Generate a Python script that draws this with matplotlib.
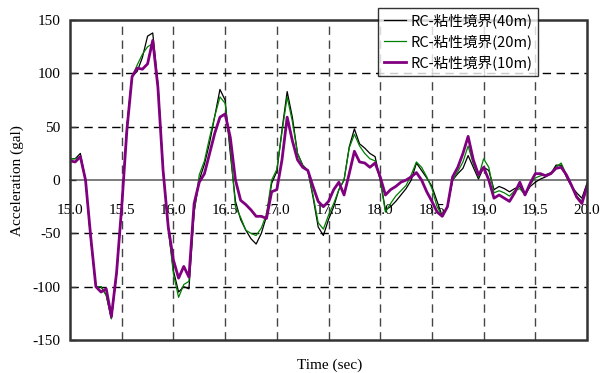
import numpy as np
import matplotlib
matplotlib.use('Agg')
import matplotlib.pyplot as plt
from matplotlib.patches import Rectangle

# 0.05秒刻みの読み取り値
t = np.round(np.arange(15.0, 20.0001, 0.05), 2)

acc_40m = [20, 20, 25, 0, -55, -100, -100, -108, -130, -88,
           -25, 50, 97, 102, 115, 135, 138, 90, 10, -45,
           -85, -105, -100, -102, -30, 0, 15, 35, 60, 85,
           75, 25, -20, -37, -47, -55, -60, -50, -34, -3,
           8, 47, 83, 59, 25, 14, 9, -16, -44, -52,
           -37, -25, -9, 0, 31, 48, 34, 30, 25, 22,
           0, -28, -25, -20, -14, -8, 0, 16, 9, 2,
           -6, -20, -34, -25, 0, 6, 11, 23, 12, 1,
           12, 9, -9, -6, -8, -11, -8, -6, -14, -6,
           -2, 1, 3, 6, 14, 14, 3, -6, -12, -17,
           -3]

acc_20m = [20, 20, 22, 0, -55, -100, -100, -108, -130, -88,
           -25, 50, 97, 108, 118, 125, 128, 90, 10, -45,
           -88, -110, -98, -95, -30, 5, 18, 40, 60, 78,
           72, 30, -25, -35, -47, -50, -52, -45, -32, 0,
           10, 45, 78, 55, 25, 14, 9, -14, -40, -46,
           -33, -22, -9, 0, 30, 43, 32, 25, 20, 18,
           0, -30, -22, -15, -10, -5, 5, 17, 12, 3,
           -8, -25, -34, -25, 0, 8, 17, 32, 15, 3,
           20, 12, -12, -10, -12, -15, -10, -8, -14, -4,
           2, 4, 5, 7, 12, 16, 5, -6, -15, -20,
           -5]

acc_10m = [18, 17, 22, 0, -53, -100, -105, -102, -128, -87,
           -25, 47, 97, 105, 104, 109, 131, 87, 9, -44,
           -75, -92, -81, -91, -22, -2, 6, 25, 44, 59,
           62, 40, 0, -19, -23, -28, -34, -34, -36, -11,
           -9, 19, 59, 37, 19, 12, 9, -6, -20, -25,
           -20, -9, -2, -14, 6, 27, 17, 16, 12, 16,
           3, -14, -9, -6, -2, 0, 3, 7, 0, -11,
           -20, -30, -34, -25, 3, 12, 25, 41, 19, 5,
           12, 0, -17, -14, -17, -20, -12, -2, -14, -3,
           6, 6, 4, 6, 11, 12, 5, -5, -16, -22,
           -6]

labels = ['RC-粘性境界(40m)', 'RC-粘性境界(20m)', 'RC-粘性境界(10m)']

plt.rcParams['axes.unicode_minus'] = False
serif = ['Liberation Serif', 'DejaVu Serif']
fig = plt.figure(figsize=(6, 3.73), dpi=100)
ax = fig.add_axes([0.1167, 0.0885, 0.8617, 0.8575])

l1, = ax.plot(t, acc_40m, color='black', lw=0.9)
l2, = ax.plot(t, acc_20m, color='#008000', lw=0.9)
l3, = ax.plot(t, acc_10m, color='#800080', lw=2.0)

ax.set_xlim(15, 20)
ax.set_ylim(-150, 150)
ax.set_xticks(np.arange(15, 20.01, 0.5))
ax.set_xticklabels(['%.1f' % v for v in np.arange(15, 20.01, 0.5)])
ax.set_yticks(np.arange(-150, 151, 50))

for v in np.arange(15.5, 20, 0.5):
    ax.axvline(v, color='#444444', lw=1.0, ls=(0, (6, 4)), zorder=0)
for v in [-100, -50, 50, 100]:
    ax.axhline(v, color='black', lw=1.0, ls=(0, (6, 4)), zorder=0)

# x軸は0の位置
for s in ['top', 'left', 'right']:
    ax.spines[s].set_visible(False)
ax.spines['bottom'].set_position(('data', 0))
ax.spines['bottom'].set_color('#666666')
ax.spines['bottom'].set_linewidth(1.2)
ax.spines['bottom'].set_zorder(1)
ax.add_patch(Rectangle((0, 0), 1, 1, transform=ax.transAxes, fill=False,
                       ec='#333333', lw=1.8, zorder=5, clip_on=False))

ax.tick_params(axis='x', length=0, pad=17, labelsize=11)
ax.tick_params(axis='y', direction='in', length=4, width=1, color='#333333',
               pad=7, labelsize=11)
for lab in ax.get_xticklabels() + ax.get_yticklabels():
    lab.set_family(serif)

ax.set_ylabel('Acceleration (gal)', family=serif, fontsize=11, labelpad=6)
fig.text(0.55, 0.012, 'Time (sec)', family=serif, fontsize=11, ha='center')

leg = fig.legend([l1, l2, l3], labels, loc='upper left',
                 bbox_to_anchor=(0.63, 0.979), borderaxespad=0,
                 frameon=True, fancybox=False,
                 edgecolor='black', handlelength=1.5, handletextpad=0.3,
                 borderpad=0.4, labelspacing=0.4,
                 prop={'family': ['Noto Sans CJK JP', 'DejaVu Sans'], 'size': 10.5})
leg.get_frame().set_linewidth(1.0)
leg.set_zorder(10)

fig.savefig('out.png', dpi=100)
